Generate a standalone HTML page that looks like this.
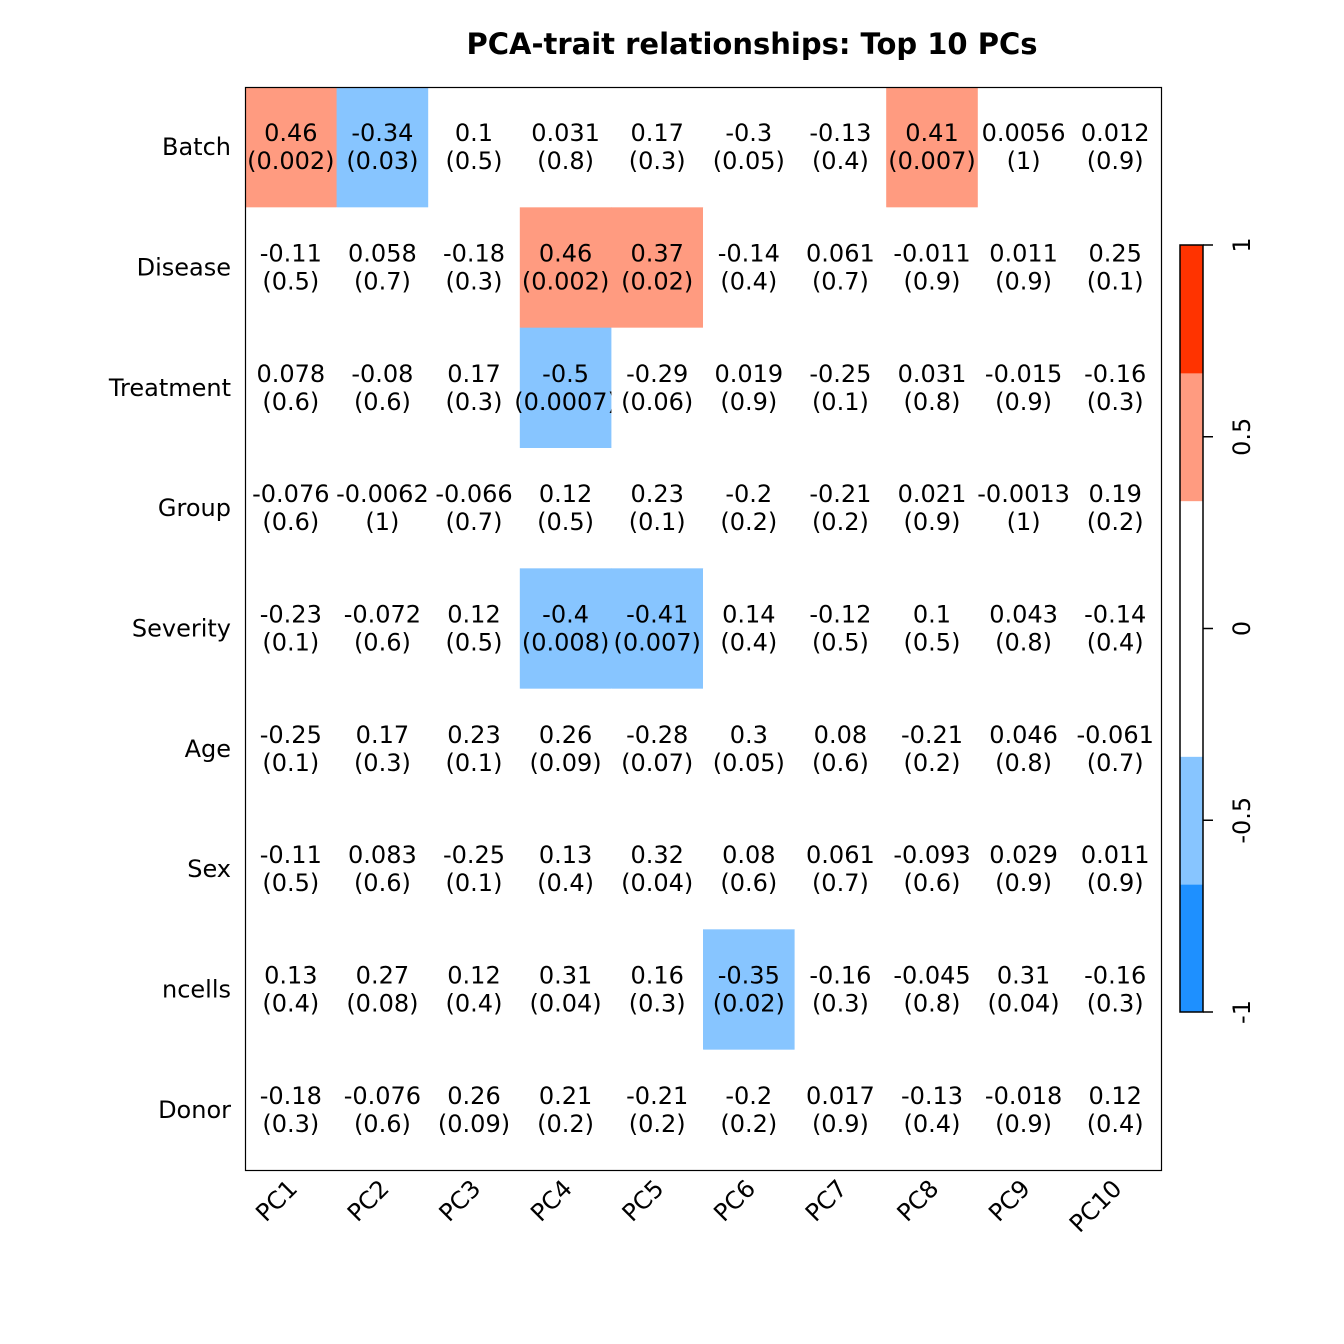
<!DOCTYPE html>
<html><head><meta charset="utf-8"><style>
body{margin:0;background:#fff}
svg{display:block;font-family:"DejaVu Sans","Liberation Sans",sans-serif}
</style></head><body>
<svg id="chart" width="1344" height="1344" viewBox="0 0 1344 1344">
<text x="752" y="54" text-anchor="middle" font-size="29" font-weight="bold">PCA-trait relationships: Top 10 PCs</text>
<g id="cells"></g>
<rect x="245.5" y="87.5" width="916" height="1083" fill="none" stroke="#000" stroke-width="1.2"/>
<g id="ylabels"></g><g id="xlabels"></g><g id="cbar"></g>
</svg>
<script>
const pcs=["PC1","PC2","PC3","PC4","PC5","PC6","PC7","PC8","PC9","PC10"];
const traits=["Batch","Disease","Treatment","Group","Severity","Age","Sex","ncells","Donor"];
const rvals=[
["0.46","-0.34","0.1","0.031","0.17","-0.3","-0.13","0.41","0.0056","0.012"],
["-0.11","0.058","-0.18","0.46","0.37","-0.14","0.061","-0.011","0.011","0.25"],
["0.078","-0.08","0.17","-0.5","-0.29","0.019","-0.25","0.031","-0.015","-0.16"],
["-0.076","-0.0062","-0.066","0.12","0.23","-0.2","-0.21","0.021","-0.0013","0.19"],
["-0.23","-0.072","0.12","-0.4","-0.41","0.14","-0.12","0.1","0.043","-0.14"],
["-0.25","0.17","0.23","0.26","-0.28","0.3","0.08","-0.21","0.046","-0.061"],
["-0.11","0.083","-0.25","0.13","0.32","0.08","0.061","-0.093","0.029","0.011"],
["0.13","0.27","0.12","0.31","0.16","-0.35","-0.16","-0.045","0.31","-0.16"],
["-0.18","-0.076","0.26","0.21","-0.21","-0.2","0.017","-0.13","-0.018","0.12"]];
const pvals=[
["0.002","0.03","0.5","0.8","0.3","0.05","0.4","0.007","1","0.9"],
["0.5","0.7","0.3","0.002","0.02","0.4","0.7","0.9","0.9","0.1"],
["0.6","0.6","0.3","0.0007","0.06","0.9","0.1","0.8","0.9","0.3"],
["0.6","1","0.7","0.5","0.1","0.2","0.2","0.9","1","0.2"],
["0.1","0.6","0.5","0.008","0.007","0.4","0.5","0.5","0.8","0.4"],
["0.1","0.3","0.1","0.09","0.07","0.05","0.6","0.2","0.8","0.7"],
["0.5","0.6","0.1","0.4","0.04","0.6","0.7","0.6","0.9","0.9"],
["0.4","0.08","0.4","0.04","0.3","0.02","0.3","0.8","0.04","0.3"],
["0.3","0.6","0.09","0.2","0.2","0.2","0.9","0.4","0.9","0.4"]];
const binColors=["#1E90FF","#87C5FF","#FFFFFF","#FFFFFF","#FF9B80","#FF3300"];
const cbTicks=[-1,-0.5,0,0.5,1];
const NS="http://www.w3.org/2000/svg";
const X0=245,Y0=87,CW=916/10,RH=1083/9;
function xc(i){return X0+CW*(i+0.5)}
function yc(j){return Y0+RH*(j+0.5)}
function col(v){let b=Math.floor((v+1)/(2/6));b=Math.max(0,Math.min(5,b));return binColors[b]}
function mk(t,a,p){const e=document.createElementNS(NS,t);for(const k in a)e.setAttribute(k,a[k]);p.appendChild(e);return e}
const cells=document.getElementById('cells');
traits.forEach((t,j)=>{pcs.forEach((pc,i)=>{
 const v=parseFloat(rvals[j][i]);
 const r=mk('rect',{x:X0+CW*i,y:Y0+RH*j,width:CW+0.5,height:RH+0.5,fill:col(v)},cells);
 
 
 const tx=mk('text',{x:xc(i),y:yc(j)-6,'text-anchor':'middle','font-size':24},cells);
 tx.textContent=rvals[j][i];
 
 
 const tp=mk('text',{x:xc(i),y:yc(j)+22,'text-anchor':'middle','font-size':24},cells);
 tp.textContent='('+pvals[j][i]+')';
 
 
});});
const yl=document.getElementById('ylabels');
traits.forEach((t,j)=>{const e=mk('text',{x:231,y:yc(j)+8,'text-anchor':'end','font-size':24},yl);e.textContent=t;
 
 });
const xl=document.getElementById('xlabels');
pcs.forEach((p,i)=>{const x=xc(i)+8,y=1190;const e=mk('text',{x:x,y:y,'text-anchor':'end','font-size':24,transform:`rotate(-45 ${x} ${y})`},xl);e.textContent=p;
 
 });
const cb=document.getElementById('cbar');
const CX=1180,CWd=23,CT=245,CB=1012;
function cy(v){return CB-(v+1)/2*(CB-CT)}
binColors.forEach((c,k)=>{const lo=-1+k/3,hi=-1+(k+1)/3;
 const r=mk('rect',{x:CX,y:cy(hi),width:CWd,height:cy(lo)-cy(hi)+0.5,fill:c},cb);
 
 });
const bd=mk('rect',{x:CX,y:CT,width:CWd,height:CB-CT,fill:'none',stroke:'#000','stroke-width':1.5},cb);


cbTicks.forEach(v=>{const y=cy(v);mk('line',{x1:CX+CWd,x2:CX+CWd+10,y1:y,y2:y,stroke:'#000','stroke-width':1.5},cb);
 const e=mk('text',{x:1250,y:y,'text-anchor':'middle','font-size':24,transform:`rotate(-90 1250 ${y})`},cb);e.textContent=String(v);
 
 });
</script>
</body></html>
